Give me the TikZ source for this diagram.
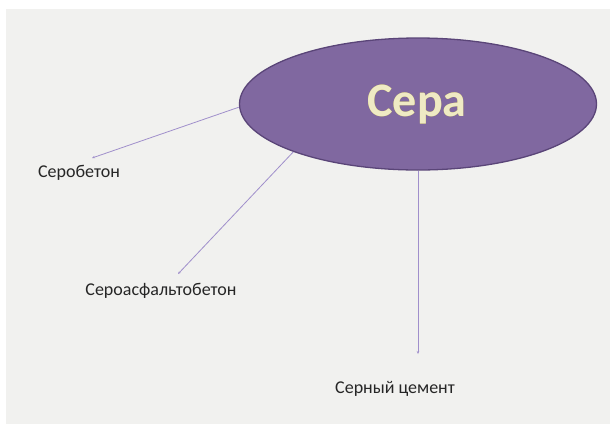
\documentclass[tikz,border=0pt]{standalone}
\usepackage{fontspec}
\setmainfont{Carlito}
\usepackage[outline]{contour}
\usetikzlibrary{shapes,arrows.meta,positioning}
\definecolor{sheet}{HTML}{F1F1EF}
\definecolor{sulfur}{HTML}{8068A0}
\definecolor{sulfedge}{HTML}{5A4578}
\definecolor{linkc}{HTML}{A08FCB}
\definecolor{sulfpale}{HTML}{EFEAC4}
\definecolor{sulfrim}{HTML}{B8AA3C}
\contourlength{1.2pt}

\begin{document}
\begin{tikzpicture}[x=1pt, y=-1pt,
		core/.style={ellipse, draw=sulfedge, fill=sulfur, line width=1.3pt, minimum width=357pt, minimum height=132pt, inner sep=0pt},
		mylabel/.style={font=\fontsize{18}{20}\selectfont, text=black!85, inner sep=0pt},
		link/.style={->, draw=linkc, line width=0.8pt},
		>={Stealth[length=3pt, width=2.5pt]}
		]
		
		\fill[white] (0,0) rectangle (610,424);
		\fill[sheet] (6,9) rectangle (610,424);
		\useasboundingbox (0,0) rectangle (610,424);
		
		\node[core] (sera) at (418,104) {};
		\node[text=sulfpale, font=\bfseries\fontsize{48}{52}\selectfont] (title) at (417,105) {\contour{sulfrim}{Сера}};
		
		\node[mylabel] (t1) at (79,173) {Серобетон};
		\node[mylabel] (t2) at (161,291) {Сероасфальтобетон};
		\node[mylabel] (t3) at (395,389) {Серный цемент};
		
		\coordinate (e1) at (92,158);
		\coordinate (e2) at (178,274);
		\coordinate (e3) at (418,354);
		
		\draw[link] (sera.181) -- (e1);
		\draw[link] (sera.201) -- (e2);
		\draw[link] (sera.south) -- (e3);
\end{tikzpicture}
\end{document}
